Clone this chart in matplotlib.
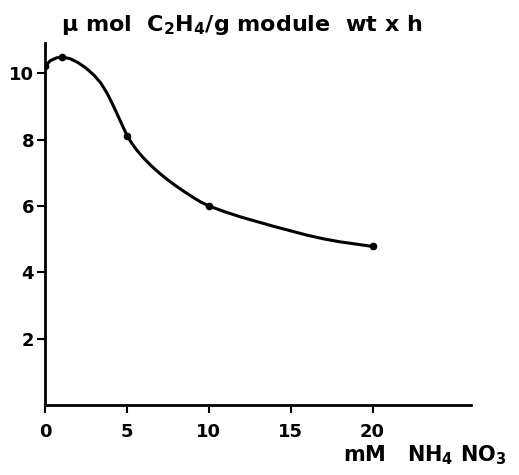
import matplotlib
matplotlib.use('Agg')
import matplotlib.pyplot as plt

## Data
# measured points (mM NH4NO3 -> umol C2H4 / g nodule wt x h)
conc = [0, 1, 5, 10, 20]
rate = [10.2, 10.48, 8.12, 6.0, 4.78]

# hand-drawn smooth curve
curve_x = [0, 0.3, 0.7, 1.0, 1.5, 2.0, 2.5, 3.0, 3.4, 3.8, 4.2, 4.6, 5.0, 5.3, 5.6,
           6.0, 6.5, 7.0, 7.5, 8.0, 8.5, 9.0, 9.5, 10.0, 11, 12, 13, 14, 15, 16, 17,
           18, 19, 20]
curve_y = [10.2, 10.37, 10.46, 10.48, 10.44, 10.32, 10.15, 9.93, 9.7, 9.38, 8.98,
           8.55, 8.12, 7.88, 7.68, 7.45, 7.2, 6.98, 6.78, 6.6, 6.43, 6.27, 6.12, 6.0,
           5.82, 5.66, 5.52, 5.38, 5.25, 5.12, 5.01, 4.92, 4.85, 4.78]

xticks = [0, 5, 10, 15, 20]
yticks = [2, 4, 6, 8, 10]

plt.rcParams['mathtext.default'] = 'regular'
plt.rcParams['font.family'] = ['DejaVu Sans']
plt.rcParams['font.weight'] = 'bold'

fig = plt.figure(figsize=(5.19, 4.75), dpi=100)
ax = fig.add_axes([0.087, 0.147, 0.82, 0.762])

ax.plot(curve_x, curve_y, color='black', lw=2.2, solid_capstyle='round',
        solid_joinstyle='round')
ax.plot(conc, rate, 'o', color='black', ms=4.5)

ax.set_xlim(0, 26)
ax.set_ylim(0, 10.9)
ax.set_xticks(xticks)
ax.set_yticks(yticks)
ax.tick_params(direction='out', length=6, width=1.5, labelsize=13, colors='black')
ax.tick_params(axis='x', pad=7)
ax.tick_params(axis='y', pad=2)

for s in ['top', 'right']:
    ax.spines[s].set_visible(False)
for s in ['left', 'bottom']:
    ax.spines[s].set_linewidth(2)

## axis titles placed like in the scan
fig.text(0.118, 0.948, u"\u00b5 mol  C$_2$H$_4$/g module  wt x h", fontsize=16,
         ha='left', va='center')
fig.text(0.66, 0.042, u"mM   NH$_4$ NO$_3$", fontsize=15, ha='left', va='center')

plt.savefig("out.png", dpi=100)
